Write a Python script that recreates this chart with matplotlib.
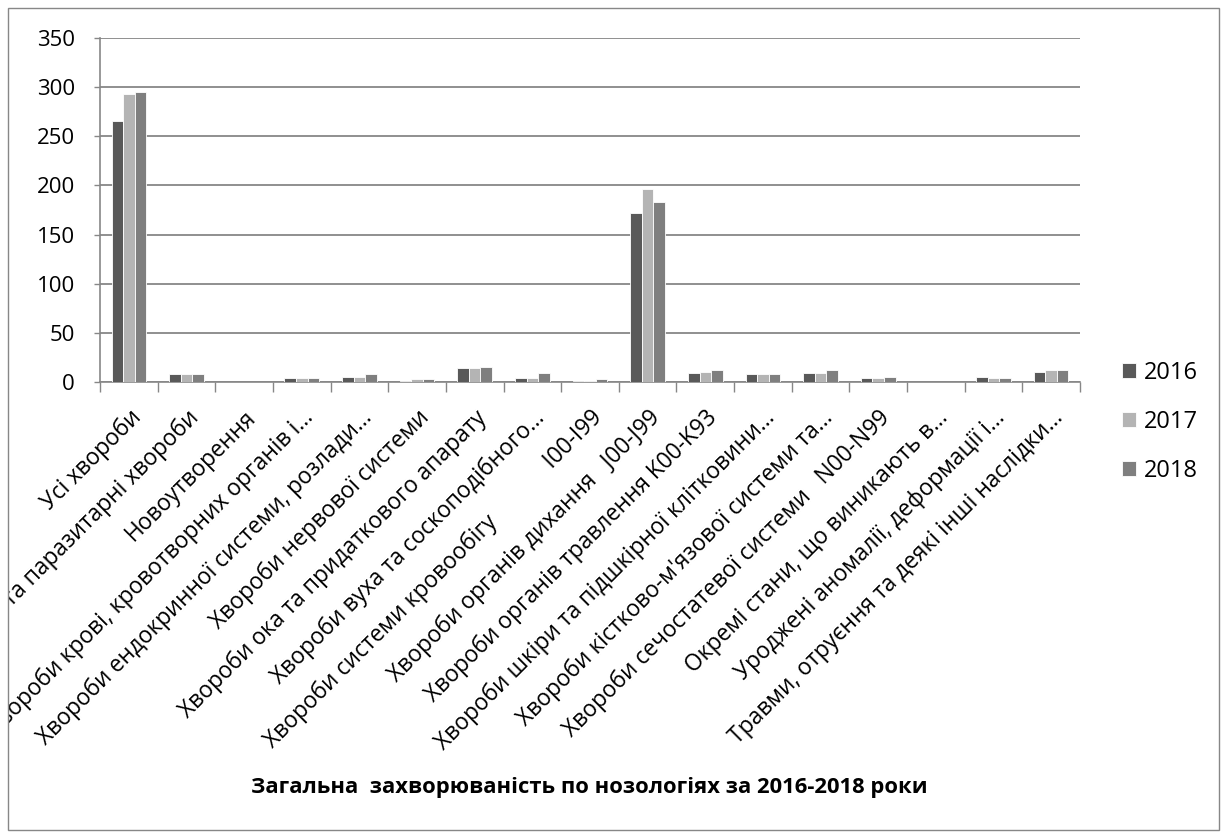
import matplotlib
matplotlib.use('Agg')
import matplotlib.pyplot as plt
from matplotlib.patches import Rectangle
import numpy as np

plt.rcParams['font.family'] = ['Open Sans', 'DejaVu Sans']

categories = [
    'Усі хвороби',
    'Деякі інфекційні та паразитарні хвороби',
    'Новоутворення',
    'Хвороби крові, кровотворних органів і...',
    'Хвороби ендокринної системи, розлади...',
    'Хвороби нервової системи',
    'Хвороби ока та придаткового апарату',
    'Хвороби вуха та соскоподібного...',
    'Хвороби системи кровообігу             I00-I99',
    'Хвороби органів дихання   J00-J99',
    'Хвороби органів травлення K00-K93',
    'Хвороби шкіри та підшкірної клітковини...',
    "Хвороби кістково-м'язової системи та...",
    'Хвороби сечостатевої системи   N00-N99',
    'Окремі стани, що виникають в...',
    'Уроджені аномалії, деформації і...',
    'Травми, отруєння та деякі інші наслідки...',
]
years = ['2016', '2017', '2018']
v2016 = [266, 8, 0.3, 4, 5, 1.4, 14.2, 4, 1.4, 172, 9, 8, 9, 4, 0.3, 5, 10.5]
v2017 = [293, 8, 0.3, 4, 5, 2.7, 14.2, 4, 1.0, 196, 10.5, 8, 9, 3.7, 0.3, 3.7, 12]
v2018 = [295, 8, 0.3, 4, 8, 2.7, 15.6, 9, 2.7, 183, 12, 8, 12, 5, 0.3, 3.7, 12]
colors = ['#595959', '#b4b4b4', '#7f7f7f']

W, H = 1225, 832
fig = plt.figure(figsize=(W / 100, H / 100), dpi=100)
ax = fig.add_axes([100 / W, 1 - 382 / H, 980 / W, 344 / H])

x = np.arange(len(categories))
bw = 0.2
for i, (vals, c) in enumerate(zip([v2016, v2017, v2018], colors)):
    ax.bar(x + (i - 1) * bw, vals, bw, color=c, edgecolor='white', linewidth=0.6,
           label=years[i], zorder=3)

ax.set_xlim(-0.5, len(categories) - 0.5)
ax.set_ylim(0, 350)
ax.set_yticks(np.arange(0, 351, 50))
ax.grid(axis='y', color='#878787', linewidth=1.3, zorder=0)
ax.tick_params(axis='y', length=4, width=1, color='#878787', labelsize=16, pad=14)
for s in ['top', 'right']:
    ax.spines[s].set_visible(False)
for s in ['left', 'bottom']:
    ax.spines[s].set_color('#878787')
    ax.spines[s].set_linewidth(1.2)

ax.set_xticks(x)
ax.set_xticklabels(categories, rotation=45, ha='right', va='top',
                   rotation_mode='anchor', fontsize=16.4)
ax.tick_params(axis='x', which='major', length=0, pad=17)
ax.set_xticks(np.arange(-0.5, len(categories), 1), minor=True)
ax.tick_params(axis='x', which='minor', length=7, width=1, color='#878787')

# outer chart frame, labels are cut at it like in the original
frame = Rectangle((8 / W, 1 - 830 / H), 1211 / W, 822 / H, transform=fig.transFigure,
                  fill=False, edgecolor='#878787', linewidth=1)
fig.patches.append(frame)
for lbl in ax.get_xticklabels():
    lbl.set_clip_path(frame)
    lbl.set_clip_on(True)

fig.legend(loc='center left', bbox_to_anchor=(1101 / W, 1 - 422 / H), frameon=False,
           fontsize=17, handlelength=0.6, handleheight=0.6, handletextpad=0.3,
           labelspacing=1.05)

fig.text(589 / W, 1 - 788 / H, 'Загальна  захворюваність по нозологіях за 2016-2018 роки',
         ha='center', va='center', fontsize=15.8, fontweight='bold')

fig.savefig('out.png', dpi=100)
